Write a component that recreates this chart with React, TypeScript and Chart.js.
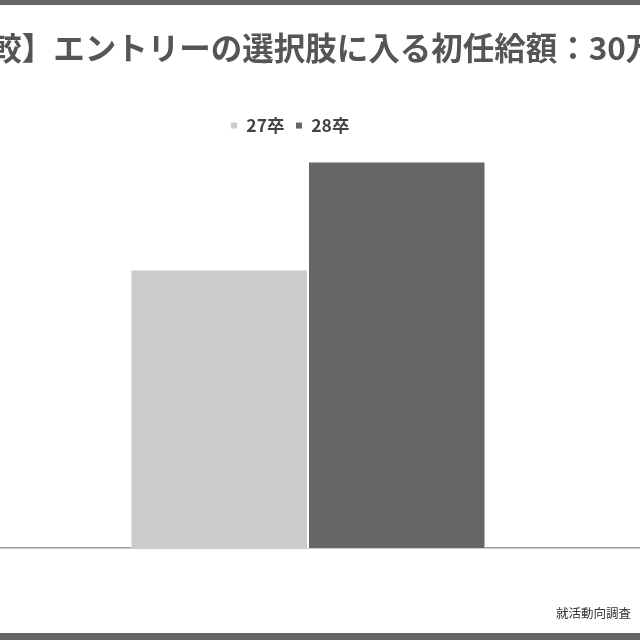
import { useEffect, useRef } from "react";
import Chart from "chart.js/auto";

// 値は画像から読み取った推定値 (%)
const chartTitle = "【前年比較】エントリーの選択肢に入る初任給額：30万円以上";
const sourceNote = "就活動向調査";
const categories = ["30万円以上"];
const seriesLabels = ["27卒", "28卒"];
const values27 = [27.6];
const values28 = [38.3];
const seriesColors = ["#cccccc", "#666666"];
const yMax = 40;

const FONT = "'Noto Sans CJK JP', 'Noto Sans', sans-serif";

// 元の図は横長のキャンバスを切り抜いたもの
const CANVAS_W = 900;
const CANVAS_H = 628;
const OFFSET_X = 142;
const LEGEND_SHIFT = 18;

// 凡例を少し左へ寄せる (何度レイアウトしても同じ位置)
const legendShift = {
  id: "legendShift",
  afterLayout(chart: any) {
    const lg = chart.legend;
    if (!lg) return;
    lg.left = -LEGEND_SHIFT;
    lg.right = chart.width - LEGEND_SHIFT;
  },
};

const App = () => {
  const canvasRef = useRef<HTMLCanvasElement | null>(null);

  useEffect(() => {
    const ctx = canvasRef.current?.getContext("2d");
    if (!ctx) return;

    const chart = new Chart(ctx, {
      type: "bar",
      data: {
        labels: categories,
        datasets: [
          {
            label: seriesLabels[0],
            data: values27,
            backgroundColor: seriesColors[0],
            borderColor: "#ffffff",
            borderWidth: 1,
          },
          {
            label: seriesLabels[1],
            data: values28,
            backgroundColor: seriesColors[1],
            borderColor: "#ffffff",
            borderWidth: 1,
          },
        ],
      },
      options: {
        responsive: false,
        animation: false,
        layout: { padding: { left: 0, right: 0, top: 0, bottom: 85 } },
        datasets: {
          bar: { categoryPercentage: 355 / CANVAS_W, barPercentage: 1 },
        },
        scales: {
          x: {
            grid: { display: false, drawTicks: false },
            border: { display: true, color: "#999999", width: 1.5 },
            ticks: { display: false },
          },
          y: {
            display: false,
            min: 0,
            max: yMax,
          },
        },
        plugins: {
          title: {
            display: true,
            text: chartTitle,
            color: "#555555",
            font: { family: FONT, size: 31.5, weight: "bold", lineHeight: 1.2 },
            padding: { top: 24, bottom: 39 },
          },
          legend: {
            position: "top",
            labels: {
              color: "#444444",
              font: { family: FONT, size: 17.5, weight: "bold" },
              boxWidth: 7,
              boxHeight: 7,
              padding: 11,
            },
          },
          tooltip: { enabled: false },
        },
      },
      plugins: [legendShift],
    });

    return () => {
      chart.destroy();
    };
  }, []);

  return (
    <div
      style={{
        position: "absolute",
        left: 0,
        top: 0,
        width: 640,
        height: 640,
        boxSizing: "border-box",
        borderTop: "5px solid #666666",
        borderBottom: "7px solid #666666",
        background: "#ffffff",
        overflow: "hidden",
      }}
    >
      <canvas
        ref={canvasRef}
        width={CANVAS_W}
        height={CANVAS_H}
        style={{ position: "absolute", left: -OFFSET_X, top: 0 }}
      ></canvas>
      <div
        style={{
          position: "absolute",
          right: 9,
          top: 598,
          fontFamily: FONT,
          fontSize: 12.5,
          color: "#333333",
        }}
      >
        {sourceNote}
      </div>
    </div>
  );
};

export default App;
